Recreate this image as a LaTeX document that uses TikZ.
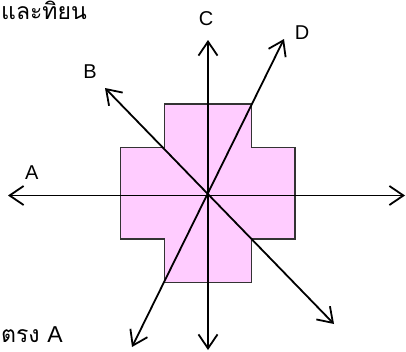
\documentclass[tikz,border=0pt]{standalone}
\usepackage{fontspec}
\setmainfont{Liberation Sans}
\newfontfamily\thaifont[Script=Thai]{Loma}
\usetikzlibrary{arrows.meta}

\definecolor{platepink}{RGB}{255,204,255}

\begin{document}
\begin{tikzpicture}[x=1pt,y=-1pt,
        ray/.style={{Straight Barb[length=14pt,width=19pt]}-{Straight Barb[length=14pt,width=19pt]}, line width=1.8pt},
        plate/.style={fill=platepink, draw=black!80, line width=1.2pt},
        axislbl/.style={font=\fontsize{20}{22}\selectfont, inner sep=0pt},
        thai/.style={font=\thaifont\fontsize{23}{25}\selectfont, inner sep=0pt}
    ]
        \useasboundingbox (0,0) rectangle (406,351);

        % plus-shaped plate
        \filldraw[plate] (164.3,104) -- (251.7,104) -- (251.7,147.3) -- (295,147.3)
            -- (295,239) -- (251.7,239) -- (251.7,282.7) -- (164.3,282.7)
            -- (164.3,239) -- (120.7,239) -- (120.7,147.3) -- (164.3,147.3) -- cycle;

        % ends of the four lines
        \coordinate (a1) at (8,195.5);
        \coordinate (a2) at (405,195.5);
        \coordinate (b1) at (105,88);
        \coordinate (b2) at (334,324);
        \coordinate (c1) at (208,40);
        \coordinate (c2) at (208,350);
        \coordinate (d1) at (284,39);
        \coordinate (d2) at (132,347);

        \draw[ray] (a1) -- (a2);
        \draw[ray] (b1) -- (b2);
        \draw[ray] (c1) -- (c2);
        \draw[ray] (d1) -- (d2);

        \node[axislbl] (la) at (31.7,173) {A};
        \node[axislbl] (lb) at (90,72) {B};
        \node[axislbl] (lc) at (206,19) {C};
        \node[axislbl] (ld) at (302,33) {D};

        \node[thai, anchor=north west] (toptext) at (1,1) {และทิยน};
        \node[thai, anchor=south west] (bottext) at (1,343) {ตรง {\rmfamily A}};
    \end{tikzpicture}
\end{document}
